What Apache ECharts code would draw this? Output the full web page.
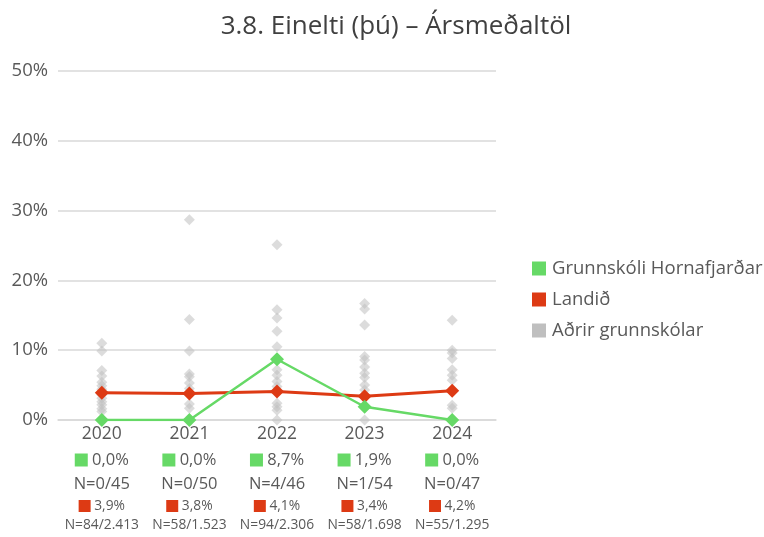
<!DOCTYPE html>
<html>
<head>
<meta charset="utf-8">
<script src="https://cdn.jsdelivr.net/npm/echarts@6/dist/echarts.min.js"></script>
<style>
  html, body { margin: 0; padding: 0; background: #fff; }
  #chart { width: 764px; height: 537px; }
</style>
</head>
<body>
<div id="chart"></div>
<script>
// Years on the category axis
var years = ['2020', '2021', '2022', '2023', '2024'];

// Grunnskóli Hornafjarðar: share (%) and counts
var schoolPct = [0.0, 0.0, 8.7, 1.9, 0.0];
var schoolN = ['0/45', '0/50', '4/46', '1/54', '0/47'];

// Landið: national share (%) and counts
var nationPct = [3.9, 3.8, 4.1, 3.4, 4.2];
var nationN = ['84/2.413', '58/1.523', '94/2.306', '58/1.698', '55/1.295'];

// Aðrir grunnskólar: other schools per year (%)
var others2020 = [11.0, 9.9, 7.1, 6.3, 5.4, 4.9, 4.4, 3.6, 3.1, 2.6, 2.2, 1.6, 1.2];
var others2021 = [28.7, 14.4, 9.9, 6.6, 6.2, 5.3, 4.5, 2.3, 1.7];
var others2022 = [25.1, 15.8, 14.6, 12.7, 10.5, 7.2, 6.4, 5.5, 4.8, 2.4, 1.9, 1.4, 0.0];
var others2023 = [16.7, 15.9, 13.6, 9.1, 8.6, 7.6, 6.7, 6.1, 5.0, 4.3, 0.0];
var others2024 = [14.3, 10.0, 9.6, 8.8, 7.2, 6.4, 5.7, 2.1, 1.7];

var yTicks = [0, 10, 20, 30, 40, 50];

var GREEN = '#66d966';
var RED = '#dd3a14';
var GRAY = '#bfbfbf';
var TEXT = '#595959';
var FONT = '"Open Sans", "Noto Sans", sans-serif';

function pct(v) { return v.toFixed(1).replace('.', ',') + '%'; }

var othersByYear = [others2020, others2021, others2022, others2023, others2024];
var othersData = [];
othersByYear.forEach(function (arr, i) {
  arr.forEach(function (v) { othersData.push([i, v]); });
});

var chart = echarts.init(document.getElementById('chart'), null, { renderer: 'canvas' });
chart.setOption({
  animation: false,
  textStyle: { fontFamily: FONT },
  title: {
    text: '3.8. Einelti (þú) – Ársmeðaltöl',
    left: 391, textAlign: 'center', top: 9,
    textStyle: { fontFamily: FONT, fontSize: 26, fontWeight: 'normal', color: '#404040' }
  },
  legend: {
    orient: 'vertical',
    left: 527, top: 254,
    itemWidth: 14, itemHeight: 14, itemGap: 12,
    icon: 'rect',
    textStyle: { fontFamily: FONT, fontSize: 18.5, color: TEXT, padding: [0, 0, 0, 1] },
    data: [
      { name: 'Grunnskóli Hornafjarðar', itemStyle: { color: GREEN } },
      { name: 'Landið', itemStyle: { color: RED } },
      { name: 'Aðrir grunnskólar', itemStyle: { color: GRAY, opacity: 1 } }
    ]
  },
  grid: { left: 58, right: 268, top: 71, bottom: 117, containLabel: false },
  xAxis: {
    type: 'category',
    data: years,
    boundaryGap: true,
    axisLine: { lineStyle: { color: '#d9d9d9', width: 1.5 } },
    axisTick: { show: false },
    axisLabel: {
      margin: 2,
      interval: 0,
      formatter: function (val, idx) {
        return '{y|' + val + '}\n' +
          '{gs|}{gv| ' + pct(schoolPct[idx]) + '}\n' +
          '{n|N=' + schoolN[idx] + '}\n' +
          '{rs|}{rv| ' + pct(nationPct[idx]) + '}\n' +
          '{rn|N=' + nationN[idx] + '}';
      },
      rich: {
        y: { fontSize: 17.5, color: TEXT, lineHeight: 24, fontFamily: FONT },
        gs: { width: 13, height: 13, backgroundColor: GREEN, lineHeight: 28 },
        gv: { fontSize: 16.5, color: TEXT, lineHeight: 28, fontFamily: FONT },
        n: { fontSize: 16.5, color: TEXT, lineHeight: 20, fontFamily: FONT },
        rs: { width: 12, height: 12, backgroundColor: RED, lineHeight: 24 },
        rv: { fontSize: 13.8, color: TEXT, lineHeight: 24, fontFamily: FONT },
        rn: { fontSize: 13.8, color: TEXT, lineHeight: 14, fontFamily: FONT }
      }
    }
  },
  yAxis: {
    type: 'value',
    min: yTicks[0], max: yTicks[yTicks.length - 1], interval: 10,
    axisLine: { show: false },
    axisTick: { show: false },
    splitLine: { lineStyle: { color: '#d9d9d9', width: 1.5 } },
    axisLabel: {
      margin: 10,
      fontSize: 18.5, color: TEXT, fontFamily: FONT,
      formatter: function (v) { return v + '%'; }
    }
  },
  series: [
    {
      name: 'Aðrir grunnskólar',
      type: 'scatter',
      data: othersData,
      symbol: 'diamond',
      symbolSize: 11,
      itemStyle: { color: GRAY, opacity: 0.55 },
      z: 1
    },
    {
      name: 'Landið',
      type: 'line',
      data: nationPct,
      symbol: 'diamond',
      symbolSize: 14,
      lineStyle: { color: RED, width: 3 },
      itemStyle: { color: RED },
      z: 3
    },
    {
      name: 'Grunnskóli Hornafjarðar',
      type: 'line',
      data: schoolPct,
      symbol: 'diamond',
      symbolSize: 14,
      lineStyle: { color: GREEN, width: 2.5 },
      itemStyle: { color: GREEN },
      z: 4
    }
  ]
});
</script>
</body>
</html>
